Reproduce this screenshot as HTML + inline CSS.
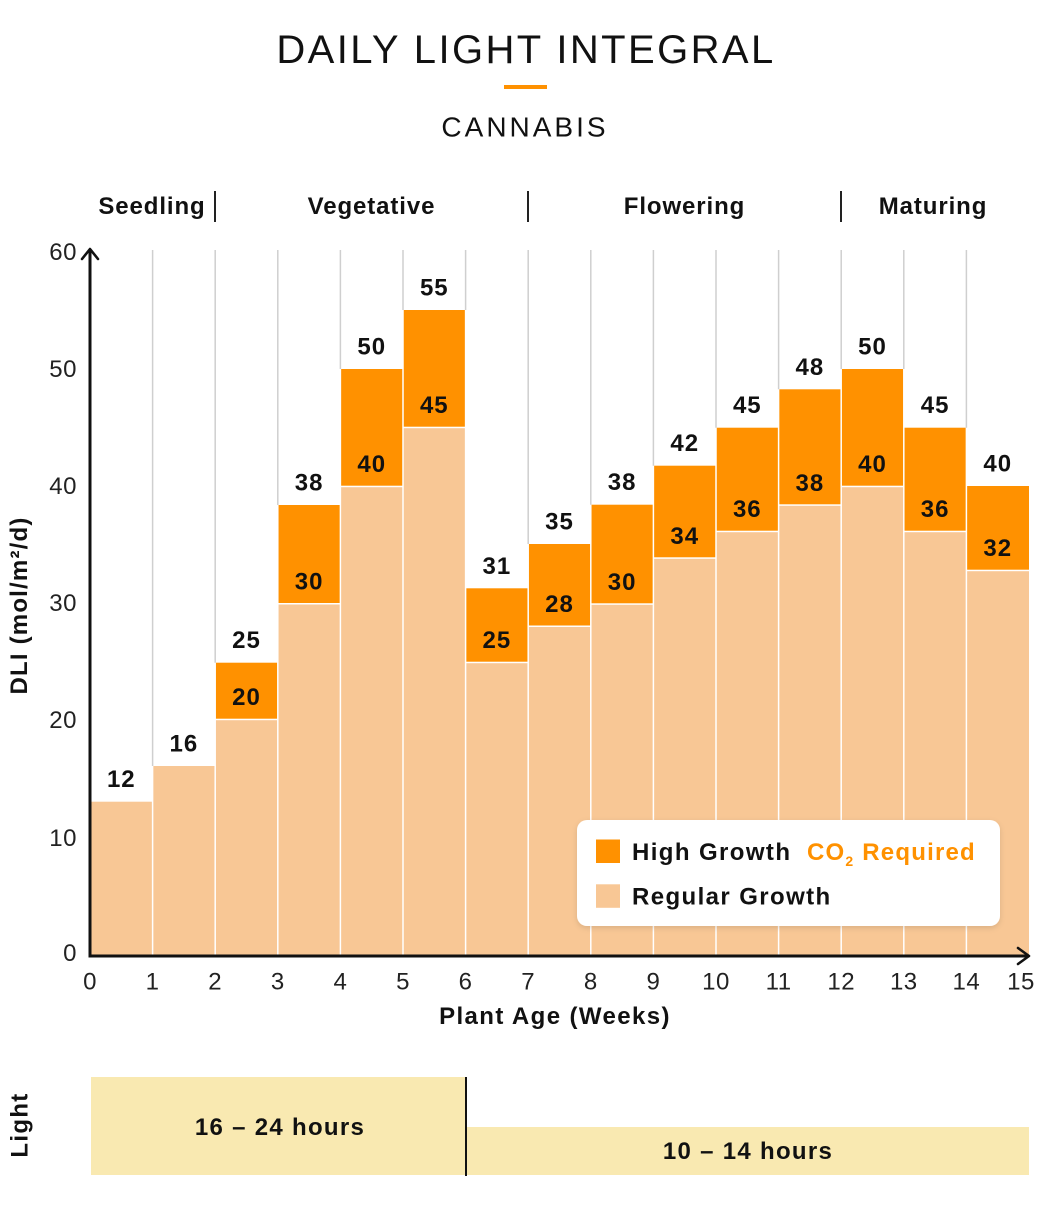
<!DOCTYPE html>
<html><head><meta charset="utf-8"><style>
html,body{margin:0;padding:0;background:#fff;}
svg{display:block;font-family:"Liberation Sans",Arial,sans-serif;}
</style></head><body>
<svg width="1038" height="1221" viewBox="0 0 1038 1221" xmlns="http://www.w3.org/2000/svg">
<defs>
<filter id="sh" x="-10%" y="-20%" width="120%" height="150%"><feDropShadow dx="0" dy="2" stdDeviation="3" flood-color="#000" flood-opacity="0.12"/></filter>
</defs>
<rect width="1038" height="1221" fill="#fff"/>
<!-- Title -->
<text x="526" y="63" text-anchor="middle" font-size="40" letter-spacing="2.4" fill="#111">DAILY LIGHT INTEGRAL</text>
<rect x="504" y="85" width="43" height="4" fill="#ff9100"/>
<text x="525" y="136.5" text-anchor="middle" font-size="28" letter-spacing="3" fill="#111">CANNABIS</text>
<!-- Phase headers -->
<g font-size="24" font-weight="bold" fill="#111" letter-spacing="0.9" text-anchor="middle">
<text x="152" y="214">Seedling</text>
<text x="371.5" y="214">Vegetative</text>
<text x="684.5" y="214">Flowering</text>
<text x="933" y="214">Maturing</text>
</g>
<g stroke="#222" stroke-width="2">
<line x1="215" y1="191" x2="215" y2="222"/>
<line x1="528" y1="191" x2="528" y2="222"/>
<line x1="841" y1="191" x2="841" y2="222"/>
</g>
<!-- gridlines -->
<g stroke="#cfcfcf" stroke-width="1.5">
<line x1="152.6" y1="250" x2="152.6" y2="766"/>
<line x1="215.2" y1="250" x2="215.2" y2="662.7"/>
<line x1="277.8" y1="250" x2="277.8" y2="505"/>
<line x1="340.4" y1="250" x2="340.4" y2="369"/>
<line x1="403" y1="250" x2="403" y2="310"/>
<line x1="465.6" y1="250" x2="465.6" y2="310"/>
<line x1="528.2" y1="250" x2="528.2" y2="544"/>
<line x1="590.8" y1="250" x2="590.8" y2="504.7"/>
<line x1="653.4" y1="250" x2="653.4" y2="465.7"/>
<line x1="716" y1="250" x2="716" y2="427.7"/>
<line x1="778.6" y1="250" x2="778.6" y2="389.3"/>
<line x1="841.2" y1="250" x2="841.2" y2="369"/>
<line x1="903.8" y1="250" x2="903.8" y2="369"/>
<line x1="966.4" y1="250" x2="966.4" y2="427.7"/>
</g>
<!-- bars: light -->
<g fill="#f8c795">
<rect x="90" y="801.7" width="61.85" height="154.3"/>
<rect x="153.35" y="766" width="61.1" height="190"/>
<rect x="215.95" y="720.2" width="61.1" height="235.8"/>
<rect x="278.55" y="604.5" width="61.1" height="351.5"/>
<rect x="341.15" y="487.2" width="61.1" height="468.8"/>
<rect x="403.75" y="428.2" width="61.1" height="527.8"/>
<rect x="466.35" y="663.2" width="61.1" height="292.8"/>
<rect x="528.95" y="627" width="61.1" height="329"/>
<rect x="591.55" y="604.8" width="61.1" height="351.2"/>
<rect x="654.15" y="558.8" width="61.1" height="397.2"/>
<rect x="716.75" y="532.2" width="61.1" height="423.8"/>
<rect x="779.35" y="505.8" width="61.1" height="450.2"/>
<rect x="841.95" y="487.2" width="61.1" height="468.8"/>
<rect x="904.55" y="532.2" width="61.1" height="423.8"/>
<rect x="967.15" y="571.2" width="61.85" height="384.8"/>
</g>
<!-- bars: dark -->
<g fill="#ff9100">
<rect x="215.95" y="662.7" width="61.1" height="56"/>
<rect x="278.55" y="505" width="61.1" height="98"/>
<rect x="341.15" y="369" width="61.1" height="116.7"/>
<rect x="403.75" y="310" width="61.1" height="116.7"/>
<rect x="466.35" y="588.3" width="61.1" height="73.4"/>
<rect x="528.95" y="544" width="61.1" height="81.5"/>
<rect x="591.55" y="504.7" width="61.1" height="98.6"/>
<rect x="654.15" y="465.7" width="61.1" height="91.6"/>
<rect x="716.75" y="427.7" width="61.1" height="103"/>
<rect x="779.35" y="389.3" width="61.1" height="115"/>
<rect x="841.95" y="369" width="61.1" height="116.7"/>
<rect x="904.55" y="427.7" width="61.1" height="103"/>
<rect x="967.15" y="486" width="61.85" height="83.7"/>
</g>
<!-- value labels -->
<g font-size="24" font-weight="bold" fill="#111" text-anchor="middle" letter-spacing="1">
<text x="121.3" y="787.2">12</text>
<text x="183.9" y="751.5">16</text>
<text x="246.5" y="648.2">25</text>
<text x="309.1" y="490.5">38</text>
<text x="371.7" y="354.5">50</text>
<text x="434.3" y="295.5">55</text>
<text x="496.9" y="573.8">31</text>
<text x="559.5" y="529.5">35</text>
<text x="622.1" y="490.2">38</text>
<text x="684.7" y="451.2">42</text>
<text x="747.3" y="413.2">45</text>
<text x="809.9" y="374.8">48</text>
<text x="872.5" y="354.5">50</text>
<text x="935.1" y="413.2">45</text>
<text x="997.7" y="471.5">40</text>
<text x="246.5" y="705.2">20</text>
<text x="309.1" y="589.5">30</text>
<text x="371.7" y="472.2">40</text>
<text x="434.3" y="413.2">45</text>
<text x="496.9" y="648.2">25</text>
<text x="559.5" y="612">28</text>
<text x="622.1" y="589.8">30</text>
<text x="684.7" y="543.8">34</text>
<text x="747.3" y="517.2">36</text>
<text x="809.9" y="490.8">38</text>
<text x="872.5" y="472.2">40</text>
<text x="935.1" y="517.2">36</text>
<text x="997.7" y="556.2">32</text>
</g>
<!-- axes -->
<g stroke="#111" fill="none" stroke-width="3">
<line x1="90" y1="957.5" x2="90" y2="250"/>
<line x1="88.5" y1="956" x2="1028" y2="956"/>
</g>
<g stroke="#111" fill="none" stroke-width="2.6" stroke-linecap="round" stroke-linejoin="round">
<polyline points="82,259 90,249 98,259"/>
<polyline points="1018,948 1029,956 1018,964"/>
</g>
<!-- y ticks -->
<g font-size="24" fill="#222" text-anchor="end" letter-spacing="0.5">
<text x="77" y="961">0</text>
<text x="77" y="846">10</text>
<text x="77" y="728">20</text>
<text x="77" y="611">30</text>
<text x="77" y="494">40</text>
<text x="77" y="377">50</text>
<text x="77" y="260">60</text>
</g>
<!-- x ticks -->
<g font-size="24" fill="#222" text-anchor="middle" letter-spacing="0.5">
<text x="90" y="989.5">0</text>
<text x="152.6" y="989.5">1</text>
<text x="215.2" y="989.5">2</text>
<text x="277.8" y="989.5">3</text>
<text x="340.4" y="989.5">4</text>
<text x="403" y="989.5">5</text>
<text x="465.6" y="989.5">6</text>
<text x="528.2" y="989.5">7</text>
<text x="590.8" y="989.5">8</text>
<text x="653.4" y="989.5">9</text>
<text x="716" y="989.5">10</text>
<text x="778.6" y="989.5">11</text>
<text x="841.2" y="989.5">12</text>
<text x="903.8" y="989.5">13</text>
<text x="966.4" y="989.5">14</text>
<text x="1021" y="989.5">15</text>
</g>
<!-- axis titles -->
<text x="555" y="1024" text-anchor="middle" font-size="24" font-weight="bold" fill="#111" letter-spacing="1.4">Plant Age (Weeks)</text>
<text transform="translate(27,605.5) rotate(-90)" text-anchor="middle" font-size="24" font-weight="bold" fill="#111" letter-spacing="1.2">DLI (mol/m²/d)</text>
<!-- legend -->
<rect x="577" y="820" width="423" height="106" rx="10" fill="#fff" filter="url(#sh)"/>
<rect x="596" y="839.5" width="24" height="23.5" fill="#ff9100"/>
<rect x="596" y="884.3" width="24" height="23.5" fill="#f8c795"/>
<text x="632" y="860" font-size="24" font-weight="bold" fill="#111" letter-spacing="1.4">High Growth</text>
<text x="807" y="860" font-size="24" font-weight="bold" fill="#ff9100" letter-spacing="1.2">CO<tspan font-size="14" dy="6">2</tspan><tspan dy="-6"> Required</tspan></text>
<text x="632" y="904.5" font-size="24" font-weight="bold" fill="#111" letter-spacing="1.4">Regular Growth</text>
<!-- light section -->
<rect x="91" y="1077" width="375" height="98" fill="#f9e9b1"/>
<rect x="466" y="1127" width="563" height="48" fill="#f9e9b1"/>
<line x1="466" y1="1077" x2="466" y2="1176" stroke="#111" stroke-width="2"/>
<text x="280" y="1135" text-anchor="middle" font-size="24" font-weight="bold" fill="#111" letter-spacing="1.3">16 – 24 hours</text>
<text x="748" y="1159" text-anchor="middle" font-size="24" font-weight="bold" fill="#111" letter-spacing="1.3">10 – 14 hours</text>
<text transform="translate(27.5,1125) rotate(-90)" text-anchor="middle" font-size="24" font-weight="bold" fill="#111" letter-spacing="1.3">Light</text>
</svg>
</body></html>
